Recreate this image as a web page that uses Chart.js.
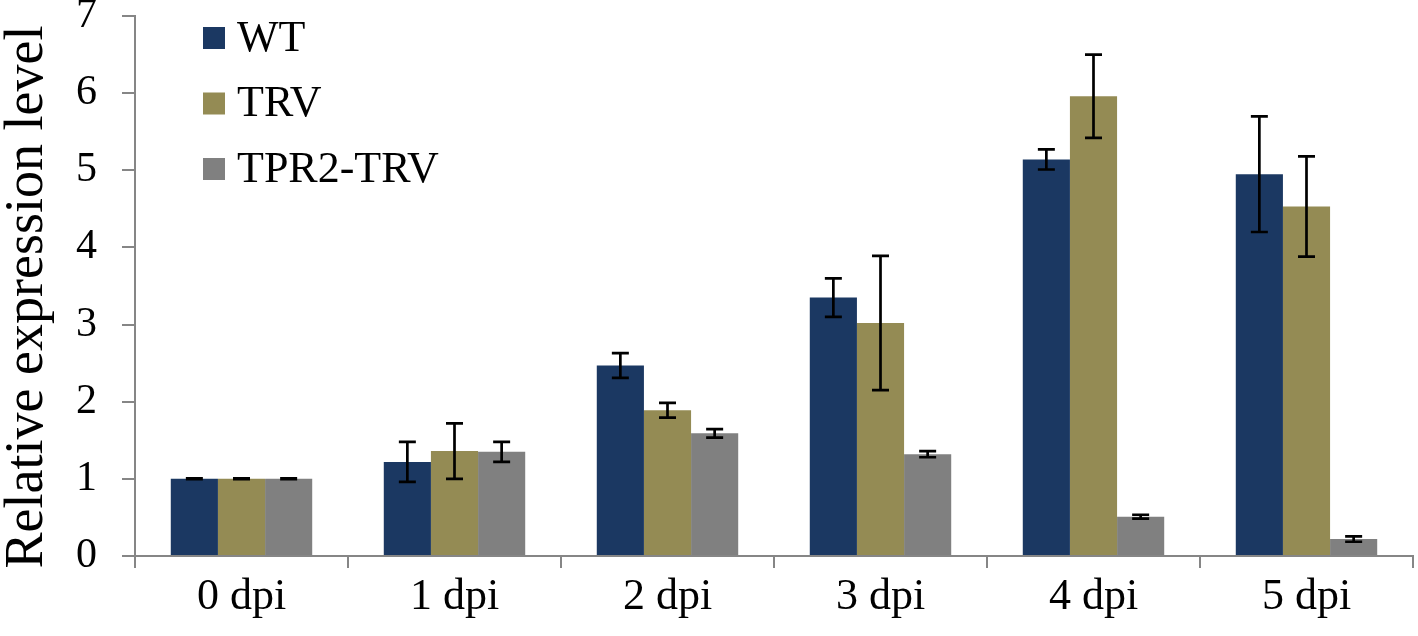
<!DOCTYPE html>
<html>
<head>
<meta charset="utf-8">
<script src="https://cdn.jsdelivr.net/npm/chart.js@4.4.0/dist/chart.umd.min.js"></script>
<style>
    html, body { margin: 0; padding: 0; background: #fff; }
    #wrap { width: 1418px; height: 636px; }
</style>
</head>
<body>
<div id="wrap"><canvas id="chart" width="1418" height="636"></canvas></div>
<script>
    // values
    var categories = ["0 dpi", "1 dpi", "2 dpi", "3 dpi", "4 dpi", "5 dpi"];
    var seriesNames = ["WT", "TRV", "TPR2-TRV"];
    var seriesColors = ["#1b3862", "#948b54", "#808080"];

    var wtValues = [1.0, 1.22, 2.47, 3.35, 5.14, 4.95];
    var wtErrors = [0.005, 0.26, 0.16, 0.25, 0.13, 0.75];

    var trvValues = [1.0, 1.36, 1.89, 3.02, 5.96, 4.53];
    var trvErrors = [0.005, 0.36, 0.095, 0.87, 0.54, 0.65];

    var tpr2Values = [1.0, 1.35, 1.59, 1.32, 0.51, 0.22];
    var tpr2Errors = [0.005, 0.13, 0.055, 0.04, 0.025, 0.035];

    var yTicks = [0, 1, 2, 3, 4, 5, 6, 7];
    var yTitle = "Relative expression level";

    var serif = "'Liberation Serif', 'Times New Roman', serif";
    var axisGray = "#868686";

    var values = [wtValues, trvValues, tpr2Values];
    var errors = [wtErrors, trvErrors, tpr2Errors];

    var datasets = seriesNames.map(function (name, i) {
        return {
            label: name,
            data: values[i],
            errors: errors[i],
            backgroundColor: seriesColors[i],
            borderWidth: 0,
            barPercentage: 1.0,
            categoryPercentage: 0.664
        };
    });

    // error bars drawn on top of the bars
    var errorBars = {
        id: "errorBars",
        afterDatasetsDraw: function (chart) {
            var ctx = chart.ctx;
            var yScale = chart.scales.y;
            ctx.save();
            ctx.strokeStyle = "#000";
            ctx.lineWidth = 2.7;
            chart.data.datasets.forEach(function (ds, i) {
                var meta = chart.getDatasetMeta(i);
                meta.data.forEach(function (bar, j) {
                    var v = ds.data[j];
                    var e = ds.errors[j];
                    var top = yScale.getPixelForValue(v + e);
                    var bottom = yScale.getPixelForValue(v - e);
                    var x = bar.x;
                    ctx.beginPath();
                    ctx.moveTo(x, top);
                    ctx.lineTo(x, bottom);
                    ctx.moveTo(x - 8.5, top);
                    ctx.lineTo(x + 8.5, top);
                    ctx.moveTo(x - 8.5, bottom);
                    ctx.lineTo(x + 8.5, bottom);
                    ctx.stroke();
                });
            });
            ctx.restore();
        }
    };

    // vertical legend inside the plot, top left
    var insideLegend = {
        id: "insideLegend",
        afterDraw: function (chart) {
            var ctx = chart.ctx;
            var area = chart.chartArea;
            ctx.save();
            ctx.font = "44px " + serif;
            ctx.textBaseline = "middle";
            ctx.textAlign = "left";
            chart.data.datasets.forEach(function (ds, i) {
                var cy = area.top + 22 + i * 65.5;
                ctx.fillStyle = ds.backgroundColor;
                ctx.fillRect(area.left + 68, cy - 11, 22, 22);
                ctx.fillStyle = "#000";
                ctx.fillText(ds.label, area.left + 102, cy + 1);
            });
            ctx.restore();
        }
    };

    // rotated y axis title, a little below the plot's middle like the original
    var yAxisTitle = {
        id: "yAxisTitle",
        afterDraw: function (chart) {
            var ctx = chart.ctx;
            var area = chart.chartArea;
            ctx.save();
            ctx.translate(42, (area.top + area.bottom) / 2 + 11);
            ctx.rotate(-Math.PI / 2);
            ctx.font = "54px " + serif;
            ctx.fillStyle = "#000";
            ctx.textAlign = "center";
            ctx.textBaseline = "alphabetic";
            ctx.fillText(yTitle, 0, 0);
            ctx.restore();
        }
    };

    var chart = new Chart(document.getElementById("chart"), {
        type: "bar",
        data: {
            labels: categories,
            datasets: datasets
        },
        options: {
            responsive: false,
            animation: false,
            devicePixelRatio: 1,
            layout: {
                padding: { top: 16, right: 5, left: 0, bottom: 0 }
            },
            plugins: {
                legend: { display: false },
                tooltip: { enabled: false }
            },
            scales: {
                x: {
                    offset: true,
                    grid: {
                        offset: true,
                        drawOnChartArea: false,
                        drawTicks: true,
                        tickLength: 12,
                        color: axisGray,
                        lineWidth: 2
                    },
                    border: { color: axisGray, width: 2 },
                    ticks: {
                        color: "#000",
                        padding: 3,
                        font: { family: serif, size: 44 },
                        maxRotation: 0
                    },
                    afterFit: function (scale) {
                        scale.height = 80;
                        scale.paddingLeft = 0;
                        scale.paddingRight = 0;
                    }
                },
                y: {
                    min: 0,
                    max: 7,
                    afterBuildTicks: function (scale) {
                        scale.ticks = yTicks.map(function (v) { return { value: v }; });
                    },
                    grid: {
                        drawOnChartArea: false,
                        drawTicks: true,
                        tickLength: 13,
                        color: axisGray,
                        lineWidth: 2
                    },
                    border: { color: axisGray, width: 2 },
                    ticks: {
                        color: "#000",
                        padding: 25,
                        font: { family: serif, size: 42 }
                    },
                    afterFit: function (scale) {
                        scale.width = 135;
                        scale.paddingTop = 0;
                        scale.paddingBottom = 0;
                    }
                }
            }
        },
        plugins: [errorBars, insideLegend, yAxisTitle]
    });
</script>
</body>
</html>
